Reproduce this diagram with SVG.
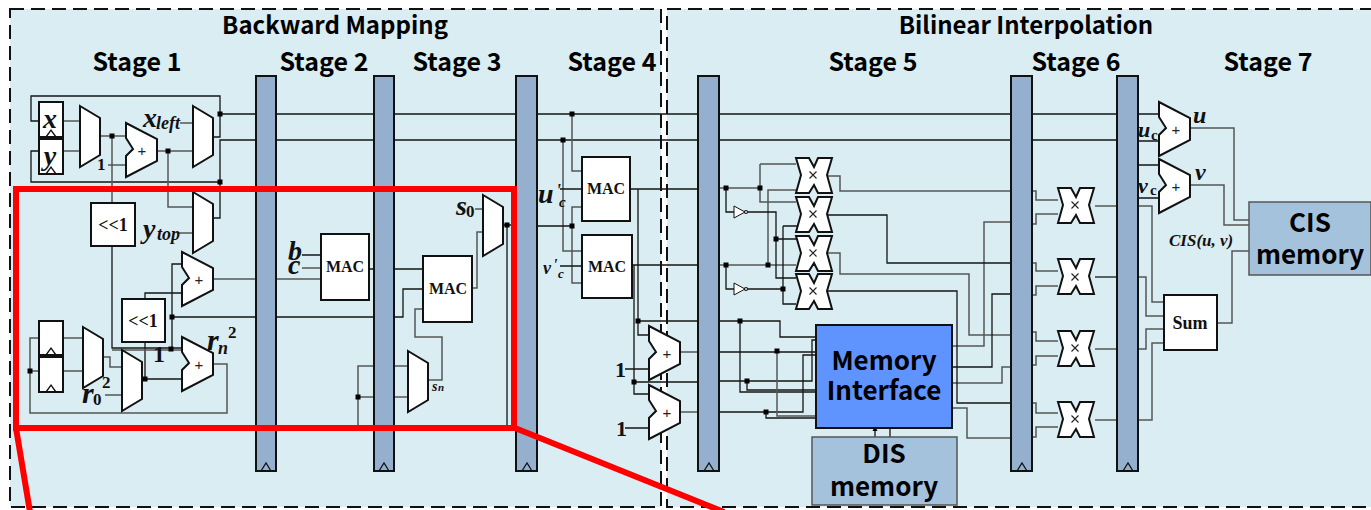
<svg xmlns="http://www.w3.org/2000/svg" width="1371" height="510" viewBox="0 0 1371 510">
<style>
.panel{fill:#daedf3;stroke:#111;stroke-width:2;stroke-dasharray:14 7}
.bar{fill:#95afcf;stroke:#111;stroke-width:2}
.clk{fill:none;stroke:#111;stroke-width:1.3}
.s{fill:#fff;stroke:#111;stroke-width:2;stroke-linejoin:miter}
.thin{fill:#fff;stroke:#111;stroke-width:1.2}
.wk{fill:none;stroke:#151515;stroke-width:1.3}
.wg{fill:none;stroke:#555;stroke-width:1.5}
.dot{fill:#000}
.h{font-family:"Noto Sans CJK KR","Noto Sans",sans-serif;font-weight:700;fill:#000;text-anchor:middle}
.l{font-family:"Liberation Serif",serif;font-weight:700;fill:#111}
.i{font-family:"Liberation Serif",serif;font-weight:700;font-style:italic;fill:#111}
.c{text-anchor:middle}
.op{font-family:"Liberation Sans",sans-serif;font-size:15px;fill:#222;text-anchor:middle}
.red{fill:none;stroke:#fe0000;stroke-width:6}
</style>
<defs>
<path id="mux" class="s" d="M0,0L20,12V49L0,61Z"/>
<path id="add" class="s" d="M0,0L31,16V38L0,54V33L7,26L0,15Z"/>
<path id="xx" class="s" d="M0,0H13L18,9L22,0H36L31,17L36,35H22L18,27L13,35H0L5,17Z"/>
<path id="times" fill="none" stroke="#222" stroke-width="1.1" d="M-3.5,-3.5L3.5,3.5M3.5,-3.5L-3.5,3.5"/>
<rect id="d" class="dot" x="-2.5" y="-2.5" width="5" height="5"/>
<path id="inv" fill="#fff" stroke="#111" stroke-width="1" d="M0,-6L11,0L0,6Z"/>
</defs>
<rect width="1371" height="510" fill="#fff"/>
<rect class="panel" x="10" y="9" width="651" height="498"/>
<rect class="panel" x="667" y="9" width="720" height="498"/>
<g id="titles">
<text class="h" x="335" y="34" font-size="24">Backward Mapping</text>
<text class="h" x="1026" y="34" font-size="24">Bilinear Interpolation</text>
<text class="h" x="137" y="71" font-size="25">Stage 1</text>
<text class="h" x="324" y="71" font-size="25">Stage 2</text>
<text class="h" x="457" y="71" font-size="25">Stage 3</text>
<text class="h" x="612" y="71" font-size="25">Stage 4</text>
<text class="h" x="873" y="71" font-size="25">Stage 5</text>
<text class="h" x="1076" y="71" font-size="25">Stage 6</text>
<text class="h" x="1268" y="71" font-size="25">Stage 7</text>
</g>
<g id="connectors">
<path class="wk" d="M39,121H31V96H220V137H213M220,114H1159M39,151H31V182H220V140H1138M220,182V218H213"/>
<path class="wg" d="M63,121H80M63,151H80M100,136H126M112,136V203M108,165H126M155,151H193M168,151V207H193M180,123H193M178,233H193"/>
<path class="wk" d="M112,246V348H182M172,349V264H182M172,317H374M182,293H145V299M145,342V379M142,379H182"/>
<path class="wg" d="M112,350H182M213,279H256M213,364H227V413H30V338H39M30,371H39M63,338H83M63,371H83M103,357H110V367H122M105,395H122"/>
<path class="wk" d="M302,255H321M369,269H374M394,269H423M394,317H403V289H423M503,225H516M507,225V426H358"/>
<path class="wg" d="M302,268H321M276,279H321M358,426V366H374M358,397H374M423,309H415V337H442V380H428M394,366H408M394,397H408M475,209H483M483,232H477V288H472"/>
<path class="wg" d="M572,114V171H582M563,140V251H582M582,207H572V283H582"/>
<path class="wk" d="M537,226H572M560,189H582M560,266H582M630,189H698M632,265H698M638,189V321M638,321V335H649M638,321H698M634,265V382V394H649M634,382H698"/>
<path class="wg" d="M680,352H698M680,412H698"/>
<path class="wk" d="M625,369H649M625,428H649"/>
<path class="wk" d="M719,321H780V337H816M740,321V392H816M719,352H816M719,381H812V340H816M747,381V390H816M719,412H803V355H816M766,412V418H816"/>
<path class="wg" d="M777,351V416H816"/>
<path class="wg" d="M719,188H760M760,164H796M760,164V202H796M719,265H796M768,265V190H796"/>
<path class="wk" d="M726,188V212H734M748,212H776V278H796M776,239H796M726,265V289H734M748,289H783M783,226H797M783,226V304H796"/>
<path class="wg" d="M828,176H840V191H1011M828,253H840V274H969V335H1011M952,346H984V222H1011M952,383H1002V367H1011M952,408H967V438H1011"/>
<path class="wk" d="M828,215H887V263H1011M828,291H957V403H1011M952,367H992V294H1011"/>
<path class="wg" d="M1032,191H1036V200H1058M1058,214H1036V224H1032M1032,263H1036V271H1058M1058,286H1036V295H1032M1032,332H1036V341H1058M1058,356H1036V365H1032M1032,403H1036V413H1058M1058,427H1036V437H1032"/>
<path class="wg" d="M1095,206H1117M1095,349H1117M1095,420H1117"/>
<path class="wk" d="M1095,277H1117"/>
<path class="wk" d="M1138,165H1159M1138,141H1159M1138,198H1159"/>
<path class="wg" d="M1138,206H1152V302H1164M1138,277H1146V316H1164M1164,329H1146V349H1138M1164,343H1152V420H1138M1217,323H1232V251H1249M1190,128H1234V220H1249M1190,185H1224V225H1249"/>
<path class="wk" d="M875,437V430M890,437V428"/>
<path class="dot" d="M872.5,431L875,426L877.5,431Z"/>
<g id="junctions">
<use href="#d" x="220" y="114"/><use href="#d" x="220" y="182"/><use href="#d" x="112" y="136"/><use href="#d" x="168" y="151"/>
<use href="#d" x="172" y="317"/><use href="#d" x="171" y="349"/><use href="#d" x="145" y="379"/><use href="#d" x="30" y="371"/>
<use href="#d" x="507" y="225"/><use href="#d" x="358" y="397"/><use href="#d" x="572" y="114"/><use href="#d" x="563" y="140"/><use href="#d" x="572" y="226"/>
<use href="#d" x="638" y="321"/><use href="#d" x="634" y="382"/><use href="#d" x="740" y="321"/><use href="#d" x="777" y="351"/><use href="#d" x="747" y="381"/><use href="#d" x="766" y="412"/>
<use href="#d" x="726" y="188"/><use href="#d" x="760" y="188"/><use href="#d" x="726" y="265"/><use href="#d" x="768" y="265"/><use href="#d" x="776" y="239"/><use href="#d" x="783" y="289"/>
</g>
</g>
<g id="pipeline-bars">
<g id="bar1"><rect class="bar" x="256" y="76" width="20" height="395"/><path class="clk" d="M261,471L266,463L271,471"/></g>
<g id="bar2"><rect class="bar" x="374" y="76" width="20" height="395"/><path class="clk" d="M379,471L384,463L389,471"/></g>
<g id="bar3"><rect class="bar" x="516" y="76" width="21" height="395"/><path class="clk" d="M522,471L527,463L532,471"/></g>
<g id="bar4"><rect class="bar" x="698" y="76" width="21" height="395"/><path class="clk" d="M704,471L709,463L714,471"/></g>
<g id="bar5"><rect class="bar" x="1011" y="76" width="21" height="395"/><path class="clk" d="M1017,471L1022,463L1027,471"/></g>
<g id="bar6"><rect class="bar" x="1117" y="76" width="21" height="395"/><path class="clk" d="M1123,471L1128,463L1133,471"/></g>
</g>
<g id="reg-x"><rect class="s" x="39" y="102" width="24" height="35"/><path class="clk" d="M46,137L51,130L56,137"/><text class="i c" x="50" y="128" font-size="28">x</text></g>
<g id="reg-y"><rect class="s" x="39" y="139" width="24" height="35"/><path class="clk" d="M46,174L51,167L56,174"/><text class="i c" x="50" y="165" font-size="28">y</text></g>
<g id="reg-r1"><rect class="s" x="39" y="321" width="24" height="34"/><path class="clk" d="M46,355L51,348L56,355"/></g>
<g id="reg-r2"><rect class="s" x="39" y="357" width="24" height="35"/><path class="clk" d="M46,392L51,385L56,392"/></g>
<g id="mux1"><use href="#mux" x="80" y="106"/></g>
<g id="mux-xleft"><use href="#mux" x="193" y="106"/></g>
<g id="mux-ytop"><use href="#mux" x="193" y="192" transform="translate(0,0)"/></g>
<g id="mux-r1"><use href="#mux" x="83" y="327"/></g>
<g id="mux-r2"><use href="#mux" x="122" y="350"/></g>
<g id="mux-s0"><use href="#mux" x="483" y="195"/></g>
<g id="mux-sn"><use href="#mux" x="408" y="351"/></g>
<g id="add1"><use href="#add" x="126" y="123"/><text class="op" x="142" y="156">+</text></g>
<g id="add2"><use href="#add" x="182" y="252"/><text class="op" x="199" y="285">+</text></g>
<g id="add3"><use href="#add" x="182" y="337"/><text class="op" x="199" y="370">+</text></g>
<g id="add4"><use href="#add" x="649" y="326"/><text class="op" x="667" y="359">+</text></g>
<g id="add5"><use href="#add" x="649" y="385"/><text class="op" x="667" y="418">+</text></g>
<g id="add-u"><use href="#add" x="1159" y="102"/><text class="op" x="1176" y="135">+</text></g>
<g id="add-v"><use href="#add" x="1159" y="159"/><text class="op" x="1176" y="192">+</text></g>
<g id="shift1"><rect class="s" x="91" y="203" width="44" height="43"/><text class="l c" x="113" y="231" font-size="18">&lt;&lt;1</text></g>
<g id="shift2"><rect class="s" x="122" y="299" width="43" height="43"/><text class="l c" x="143" y="327" font-size="18">&lt;&lt;1</text></g>
<g id="mac1"><rect class="s" x="321" y="234" width="48" height="66"/><text class="l c" x="345" y="272" font-size="16">MAC</text></g>
<g id="mac2"><rect class="s" x="423" y="256" width="49" height="66"/><text class="l c" x="448" y="294" font-size="16">MAC</text></g>
<g id="mac3"><rect class="s" x="582" y="157" width="48" height="64"/><text class="l c" x="606" y="194" font-size="16">MAC</text></g>
<g id="mac4"><rect class="s" x="582" y="235" width="50" height="63"/><text class="l c" x="607" y="272" font-size="16">MAC</text></g>
<g id="x1"><use href="#xx" x="796" y="158"/><use href="#times" x="813" y="175"/></g>
<g id="x2"><use href="#xx" x="796" y="197"/><use href="#times" x="813" y="214"/></g>
<g id="x3"><use href="#xx" x="796" y="236"/><use href="#times" x="813" y="253"/></g>
<g id="x4"><use href="#xx" x="796" y="274"/><use href="#times" x="813" y="291"/></g>
<g id="x5"><use href="#xx" x="1058" y="188"/><use href="#times" x="1075" y="205"/></g>
<g id="x6"><use href="#xx" x="1058" y="259"/><use href="#times" x="1075" y="277"/></g>
<g id="x7"><use href="#xx" x="1058" y="331"/><use href="#times" x="1075" y="348"/></g>
<g id="x8"><use href="#xx" x="1058" y="402"/><use href="#times" x="1075" y="419"/></g>
<g id="inv1"><use href="#inv" x="734" y="212"/><circle class="thin" cx="746" cy="212" r="1.5"/></g>
<g id="inv2"><use href="#inv" x="734" y="289"/><circle class="thin" cx="746" cy="289" r="1.5"/></g>
<g id="memory-interface"><rect x="816" y="325" width="136" height="103" fill="#5f94ff" stroke="#111" stroke-width="2"/><text class="h" x="884" y="370" font-size="26">Memory</text><text class="h" x="884" y="400" font-size="26">Interface</text></g>
<g id="dis-memory"><rect x="812" y="437" width="145" height="68" fill="#a5c2dc" stroke="#555" stroke-width="1.5"/><text class="h" x="884" y="463" font-size="26">DIS</text><text class="h" x="884" y="496" font-size="26">memory</text></g>
<g id="cis-memory"><rect x="1249" y="202" width="122" height="73" fill="#a5c2dc" stroke="#555" stroke-width="1.5"/><text class="h" x="1310" y="232" font-size="26">CIS</text><text class="h" x="1310" y="264" font-size="26">memory</text></g>
<g id="sum"><rect class="s" x="1164" y="295" width="53" height="55"/><text class="l c" x="1190" y="329" font-size="18">Sum</text></g>
<g id="labels">
<text class="i" x="143" y="127" font-size="28">x</text><text class="i" x="156" y="129" font-size="18">left</text>
<text class="i" x="143" y="238" font-size="28">y</text><text class="i" x="157" y="240" font-size="18">top</text>
<text class="l" x="97" y="170" font-size="17">1</text>
<text class="l" x="153" y="362" font-size="24">1</text>
<text class="i" x="82" y="403" font-size="30">r</text><text class="l" x="93" y="405" font-size="17">0</text><text class="l" x="102" y="388" font-size="17">2</text>
<text class="i" x="207" y="350" font-size="30">r</text><text class="i" x="218" y="354" font-size="18">n</text><text class="l" x="228" y="338" font-size="17">2</text>
<text class="i" x="288" y="260" font-size="28">b</text><text class="i" x="288" y="274" font-size="28">c</text>
<text class="i" x="456" y="215" font-size="28">s</text><text class="l" x="466" y="217" font-size="17">0</text>
<text class="i" x="432" y="391" font-size="14">s</text><text class="i" x="438" y="391" font-size="11">n</text>
<text class="i" x="538" y="203" font-size="28">u</text><text class="i" x="556" y="197" font-size="18">'</text><text class="i" x="559" y="207" font-size="15">c</text>
<text class="i" x="543" y="274" font-size="18">v</text><text class="i" x="553" y="270" font-size="16">'</text><text class="i" x="558" y="278" font-size="13">c</text>
<text class="l" x="615" y="377" font-size="22">1</text><text class="l" x="616" y="436" font-size="22">1</text>
<text class="i" x="1138" y="137" font-size="22">u</text><text class="l" x="1151" y="140" font-size="15">c</text>
<text class="i" x="1138" y="193" font-size="22">v</text><text class="l" x="1150" y="195" font-size="15">c</text>
<text class="i" x="1193" y="123" font-size="24">u</text><text class="i" x="1195" y="180" font-size="24">v</text>
<text class="i" x="1169" y="246" font-size="17">CIS(u, v)</text>
</g>
<g id="highlight">
<rect class="red" x="16" y="189" width="498" height="239"/>
<path class="red" d="M16,428L30,512M515,428L724,512"/>
</g>
</svg>
